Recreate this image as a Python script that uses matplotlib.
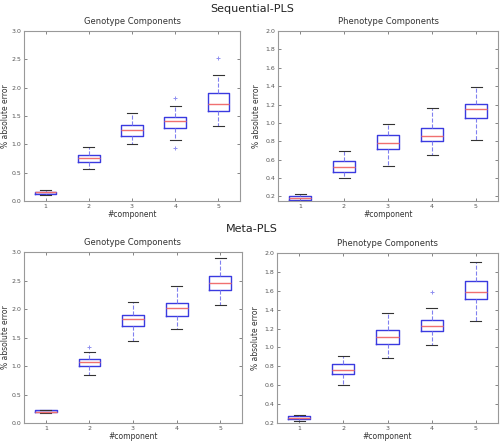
import numpy as np
import matplotlib
matplotlib.use("Agg")
import matplotlib.pyplot as plt

components = [1, 2, 3, 4, 5]

# Sequential-PLS, genotype
seq_geno_med = [0.15, 0.76, 1.25, 1.41, 1.72]
seq_geno_q1 = [0.13, 0.69, 1.15, 1.28, 1.58]
seq_geno_q3 = [0.16, 0.81, 1.34, 1.48, 1.90]
seq_geno_lo = [0.11, 0.56, 1.00, 1.07, 1.33]
seq_geno_hi = [0.19, 0.95, 1.56, 1.67, 2.22]
seq_geno_fl = [[], [], [], [1.81, 0.93], [2.52]]

# Sequential-PLS, phenotype
seq_pheno_med = [0.18, 0.52, 0.78, 0.86, 1.15]
seq_pheno_q1 = [0.16, 0.47, 0.72, 0.80, 1.05]
seq_pheno_q3 = [0.20, 0.58, 0.87, 0.94, 1.21]
seq_pheno_lo = [0.15, 0.40, 0.53, 0.65, 0.81]
seq_pheno_hi = [0.23, 0.69, 0.99, 1.16, 1.39]
seq_pheno_fl = [[], [], [], [], []]

# Meta-PLS, genotype
meta_geno_med = [0.20, 1.07, 1.83, 2.01, 2.45]
meta_geno_q1 = [0.19, 1.00, 1.71, 1.88, 2.34]
meta_geno_q3 = [0.22, 1.13, 1.90, 2.10, 2.58]
meta_geno_lo = [0.17, 0.84, 1.44, 1.65, 2.07]
meta_geno_hi = [0.23, 1.24, 2.13, 2.41, 2.90]
meta_geno_fl = [[], [1.34], [], [], []]

# Meta-PLS, phenotype
meta_pheno_med = [0.25, 0.76, 1.11, 1.23, 1.59]
meta_pheno_q1 = [0.24, 0.72, 1.04, 1.17, 1.51]
meta_pheno_q3 = [0.27, 0.82, 1.18, 1.29, 1.70]
meta_pheno_lo = [0.22, 0.60, 0.89, 1.03, 1.28]
meta_pheno_hi = [0.29, 0.91, 1.36, 1.42, 1.90]
meta_pheno_fl = [[], [], [], [1.59], []]


def make_stats(med, q1, q3, lo, hi, fl):
    stats = []
    for i in range(len(med)):
        stats.append(dict(med=med[i], q1=q1[i], q3=q3[i],
                          whislo=lo[i], whishi=hi[i], fliers=fl[i],
                          label=str(components[i])))
    return stats


def draw_panel(ax, stats, title, ylim, yticks, ylabelpad=3):
    ax.bxp(stats, positions=components, widths=0.5,
           boxprops=dict(color="#3a3ae0", linewidth=1.0),
           medianprops=dict(color="#f07070", linewidth=1.0),
           whiskerprops=dict(color="#8080f0", linestyle="--", linewidth=0.8),
           capprops=dict(color="#333333", linewidth=0.8),
           flierprops=dict(marker="+", markeredgecolor="#9090f0",
                           markersize=2.5, markeredgewidth=0.7,
                           linestyle="none"))
    ax.set_xlim(0.5, 5.5)
    ax.set_ylim(*ylim)
    ax.set_yticks(yticks)
    ax.set_yticklabels(["%.1f" % t for t in yticks])
    ax.set_title(title, fontsize=6, color="#333333", pad=5)
    ax.set_xlabel("#component", fontsize=5.5, color="#333333", labelpad=1)
    ax.set_ylabel("% absolute error", fontsize=5.5, color="#333333",
                  labelpad=ylabelpad)
    ax.tick_params(direction="in", top=True, right=True, labelsize=4.5,
                   length=2.5, width=0.5, colors="#555555", pad=2)
    for s in ax.spines.values():
        s.set_color("#999999")
        s.set_linewidth(0.8)


fig = plt.figure(figsize=(5.04, 4.44), dpi=100)
W, H = 504.0, 444.0


def add_ax(l, r, t, b):
    return fig.add_axes([l / W, 1 - b / H, (r - l) / W, (b - t) / H])


ax1 = add_ax(24, 240, 31, 201)
ax2 = add_ax(278, 498, 31, 201)
ax3 = add_ax(24, 242, 252, 423)
ax4 = add_ax(277, 498, 253, 423)

draw_panel(ax1, make_stats(seq_geno_med, seq_geno_q1, seq_geno_q3,
                           seq_geno_lo, seq_geno_hi, seq_geno_fl),
           "Genotype Components", (0, 3.0), np.arange(0, 3.01, 0.5),
           ylabelpad=1)
draw_panel(ax2, make_stats(seq_pheno_med, seq_pheno_q1, seq_pheno_q3,
                           seq_pheno_lo, seq_pheno_hi, seq_pheno_fl),
           "Phenotype Components", (0.15, 2.0), np.arange(0.2, 2.01, 0.2))
draw_panel(ax3, make_stats(meta_geno_med, meta_geno_q1, meta_geno_q3,
                           meta_geno_lo, meta_geno_hi, meta_geno_fl),
           "Genotype Components", (0, 3.0), np.arange(0, 3.01, 0.5),
           ylabelpad=1)
draw_panel(ax4, make_stats(meta_pheno_med, meta_pheno_q1, meta_pheno_q3,
                           meta_pheno_lo, meta_pheno_hi, meta_pheno_fl),
           "Phenotype Components", (0.2, 2.0), np.arange(0.2, 2.01, 0.2))

fig.text(0.5, 1 - 9 / H, "Sequential-PLS", ha="center", va="center",
         fontsize=8, color="#222222")
fig.text(0.5, 1 - 229 / H, "Meta-PLS", ha="center", va="center",
         fontsize=8, color="#222222")

fig.savefig("out.png", dpi=100)
